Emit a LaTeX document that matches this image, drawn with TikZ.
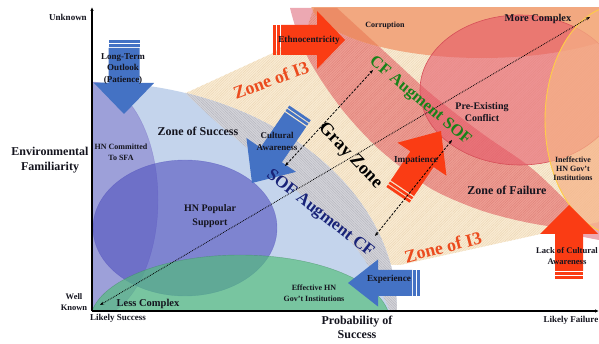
\documentclass[tikz,border=0pt]{standalone}
\usepackage{fontspec}
\setmainfont{Liberation Serif}
\usetikzlibrary{arrows.meta,patterns.meta}

\definecolor{succC}{RGB}{196,212,236}
\definecolor{grayC}{RGB}{212,212,218}
\definecolor{grayP}{RGB}{182,182,190}
\definecolor{beigeC}{RGB}{250,236,212}
\definecolor{beigeP}{RGB}{236,214,180}
\definecolor{pinkC}{RGB}{236,168,178}
\definecolor{bandC}{RGB}{238,158,148}
\definecolor{bandP}{RGB}{224,130,122}
\definecolor{corrC}{RGB}{242,168,128}
\definecolor{corrBand}{RGB}{236,140,102}
\definecolor{circC}{RGB}{230,88,104}
\definecolor{circB}{RGB}{214,78,88}
\definecolor{ineffC}{RGB}{246,178,134}
\definecolor{ineffB}{RGB}{255,205,70}
\definecolor{commC}{RGB}{120,110,200}
\definecolor{popC}{RGB}{80,80,190}
\definecolor{effC}{RGB}{80,190,120}
\definecolor{blueA}{RGB}{68,114,196}
\definecolor{redA}{RGB}{250,60,20}
\definecolor{iText}{RGB}{235,75,30}
\definecolor{navyT}{RGB}{25,35,120}
\definecolor{greenT}{RGB}{25,130,25}
\definecolor{txt}{RGB}{20,20,30}

\newcommand{\fs}[2]{\fontsize{#1}{#2}\selectfont}

% striped block arrow: tip, rotation, colour, length, head length, head half width, shaft half width
\newcommand{\sfarrow}[7]{%
  \begin{scope}[shift={#1}, rotate=#2]
    \fill[#3] (0,0) -- (-#5,#6) -- (-#5,#7) -- (-#4+8,#7) -- (-#4+8,-#7)
      -- (-#5,-#7) -- (-#5,-#6) -- cycle;
    \fill[#3] (-#4+4,#7) rectangle (-#4+6.6,-#7);
    \fill[#3] (-#4,#7) rectangle (-#4+2.8,-#7);
  \end{scope}}

% crescent band on the failure side
\def\bandpath{plot[smooth] coordinates {(314,8) (304,45) (318,75) (345,113) (380,150) (430,188) (480,210) (530,223) (595,233)}
  -- plot[smooth] coordinates {(595,233) (565,200) (530,167) (480,132) (430,93) (385,52) (337,8)} -- cycle}

\begin{document}
\begin{tikzpicture}[x=1pt,y=-1pt,
  lbl/.style={font=\bfseries, text=txt, inner sep=0pt, align=center},
  beigezone/.style={preaction={fill=beigeC}, pattern={Lines[angle=45,distance=1.8pt,line width=0.45pt]}, pattern color=beigeP},
  grayzone/.style={preaction={fill=grayC}, pattern={Lines[angle=-45,distance=1.8pt,line width=0.45pt]}, pattern color=grayP},
  bandzone/.style={preaction={fill=bandC}, pattern={Lines[angle=45,distance=1.8pt,line width=0.45pt]}, pattern color=bandP},
  axisline/.style={line width=1.2pt, -{Latex[length=4pt,width=3.5pt]}},
  dotline/.style={densely dotted, line width=0.8pt, {Stealth[length=4pt,width=3pt]}-{Stealth[length=4pt,width=3pt]}},
  dashline/.style={dash pattern=on 2.5pt off 1.5pt, line width=0.8pt, {Stealth[length=4pt,width=3pt]}-{Stealth[length=4pt,width=3pt]}}
]
\useasboundingbox (0,0) rectangle (599,344);
\fill[white] (0,0) rectangle (599,344);

\begin{scope}
  \clip (92,8) rectangle (599,311);
  % failure side
  \fill[pinkC] (290,8) -- (599,8) -- (599,240) -- plot[smooth] coordinates {(599,240) (530,225) (450,197) (380,148) (325,90) (300,40) (290,8)} -- cycle;
  % zone of I3
  \path[beigezone] (186,93) -- (273,53) -- (335,8) -- (599,8) -- (599,222) -- (545,233) -- (400,265)
    -- plot[domain=11.6:72.2,samples=40,variable=\t] ({92+305*cos(\t)},{311-229*sin(\t)}) -- cycle;
  % CF augment SOF band
  \path[bandzone] \bandpath;
  % corruption
  \fill[corrC] (482,0) ellipse [x radius=172, y radius=58];
  \begin{scope}
    \clip (482,0) ellipse [x radius=172, y radius=58];
    \fill[corrBand] \bandpath;
  \end{scope}
  % pre-existing conflict
  \path[fill=circC, fill opacity=0.6, draw=circB, line width=0.6pt] (520,90) ellipse [x radius=100, y radius=75];
  % ineffective institutions
  \path[fill=ineffC, fill opacity=0.72, draw=ineffB, line width=0.9pt] (620,120) ellipse [x radius=75, y radius=115];

  % zone of success
  \fill[succC] (92,311) -- plot[domain=0:90,samples=60,variable=\t] ({92+305*cos(\t)},{311-229*sin(\t)}) -- cycle;
  \path[grayzone] plot[domain=0:72.2,samples=50,variable=\t] ({92+305*cos(\t)},{311-229*sin(\t)})
    -- plot[smooth] coordinates {(185,93) (222,127) (262,160) (305,198) (345,235) (368,265) (385,300) (390,311)} -- cycle;
  \path[fill=commC, fill opacity=0.5, draw=commC, draw opacity=0.5, line width=0.4pt] (92,200) ellipse [x radius=66, y radius=118];
  \path[fill=popC, fill opacity=0.6, draw=popC, draw opacity=0.5, line width=0.4pt] (185,228) ellipse [x radius=92, y radius=68];
  \path[fill=effC, fill opacity=0.65, draw=effC!70!black, draw opacity=0.5, line width=0.4pt] (240,322) ellipse [x radius=150, y radius=67];
\end{scope}

% block arrows
\sfarrow{(124,114)}{-90}{blueA}{74}{31}{30}{15.5}
\sfarrow{(252,183)}{-124.4}{blueA}{85}{34}{30}{13}
\sfarrow{(348,283)}{180}{blueA}{72}{30}{23.5}{13}
\sfarrow{(345,40)}{0}{redA}{72}{28}{29}{15}
\sfarrow{(441,131)}{56}{redA}{77}{34}{29.5}{14}
\sfarrow{(569,205)}{90}{redA}{74}{29}{29}{14}

% connectors
\coordinate (lc) at (100,305);
\coordinate (mc) at (590,17);
\coordinate (g1a) at (285,166);
\coordinate (g1b) at (373,70);
\coordinate (g2a) at (375,236);
\coordinate (g2b) at (452,140);
\draw[dotline] (lc) -- (mc);
\draw[dashline] (g1a) -- (g1b);
\draw[dashline] (g2a) -- (g2b);

% axes
\coordinate (org) at (92,311);
\coordinate (ytip) at (92,7);
\coordinate (xtip) at (599,311);
\draw[axisline] (org) -- (ytip);
\draw[axisline] (org) -- (xtip);

% axis labels
\node[lbl, font=\bfseries\fs{9}{10}] (unk) at (68,17) {Unknown};
\node[lbl, font=\bfseries\fs{12}{15}] (env) at (50,160) {Environmental\\Familiarity};
\node[lbl, font=\bfseries\fs{8.5}{11}] (wk) at (74,302) {Well\\Known};
\node[lbl, font=\bfseries\fs{9}{10}] (ls) at (118,318) {Likely Success};
\node[lbl, font=\bfseries\fs{12}{14}] (pos) at (357,327) {Probability of\\Success};
\node[lbl, font=\bfseries\fs{9}{10}] (lf) at (571,320) {Likely Failure};

% region labels
\node[lbl, font=\bfseries\fs{12}{14}] (zs) at (198,131) {Zone of Success};
\node[lbl, font=\bfseries\fs{8}{11}] (hnc) at (121,152) {HN Committed\\To SFA};
\node[lbl, font=\bfseries\fs{10}{13.5}] (hnp) at (210,216) {HN Popular\\Support};
\node[lbl, font=\bfseries\fs{10.5}{12}] (lcx) at (148,304) {Less Complex};
\node[lbl, font=\bfseries\fs{8}{10.5}] (eff) at (314,293) {Effective HN\\Gov't Institutions};
\node[lbl, font=\bfseries\fs{12}{14}] (zf) at (507,190) {Zone of Failure};
\node[lbl, font=\bfseries\fs{8}{10}] (cor) at (385,26) {Corruption};
\node[lbl, font=\bfseries\fs{10.4}{12}] (mcx) at (538,19) {More Complex};
\node[lbl, font=\bfseries\fs{10}{12}] (pec) at (482,112) {Pre-Existing\\Conflict};
\node[lbl, font=\bfseries\fs{8}{9.2}] (ineff) at (573,169) {Ineffective\\HN Gov't\\Institutions};

% arrow labels
\node[lbl, font=\bfseries\fs{9}{11.6}] (lto) at (123,69) {Long-Term\\Outlook\\(Patience)};
\node[lbl, font=\bfseries\fs{9}{12}] (cua) at (277,141) {Cultural\\Awareness};
\node[lbl, font=\bfseries\fs{9.2}{11}] (exp) at (389,279) {Experience};
\node[lbl, font=\bfseries\fs{9.2}{11}] (eth) at (309,40) {Ethnocentricity};
\node[lbl, font=\bfseries\fs{9.2}{11}] (imp) at (416,160) {Impatience};
\node[lbl, font=\bfseries\fs{8.6}{11}] (lca) at (567,256) {Lack of Cultural\\Awareness};

% band labels
\node[lbl, font=\bfseries\fs{18}{20}, text=iText, rotate=20.5] (i3a) at (271,80) {Zone of I3};
\node[lbl, font=\bfseries\fs{18}{20}, text=iText, rotate=14.6] (i3b) at (443,247) {Zone of I3};
\node[lbl, font=\bfseries\fs{18}{20}, text=black, rotate=-46] (gz) at (350,156) {Gray Zone};
\node[lbl, font=\bfseries\fs{17}{20}, text=navyT, rotate=-38] (sac) at (320,214) {SOF Augment CF};
\node[lbl, font=\bfseries\fs{16.5}{20}, text=greenT, rotate=-40] (cas) at (420,101) {CF Augment SOF};
\end{tikzpicture}
\end{document}
